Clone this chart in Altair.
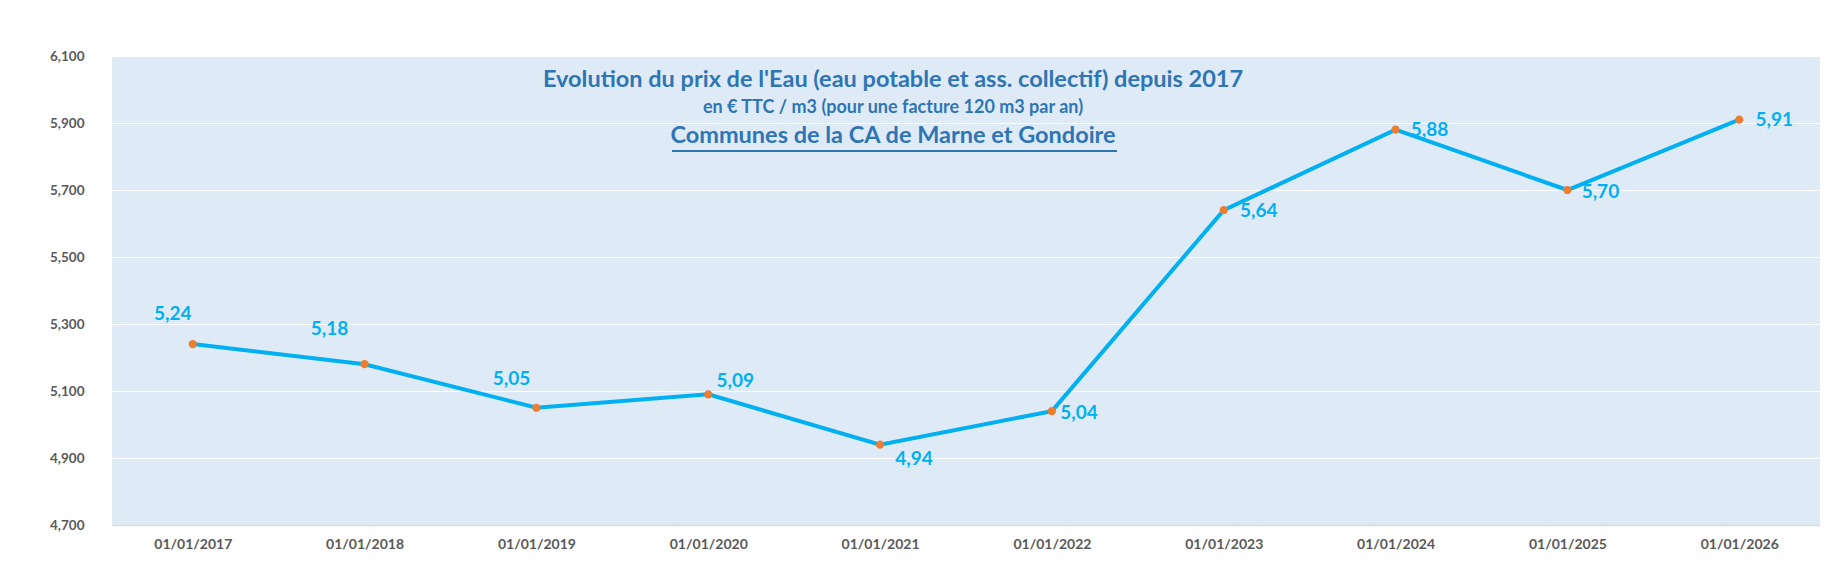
import altair as alt
import pandas as pd

dates = ["01/01/2017", "01/01/2018", "01/01/2019", "01/01/2020", "01/01/2021",
         "01/01/2022", "01/01/2023", "01/01/2024", "01/01/2025", "01/01/2026"]
prices = [5.24, 5.18, 5.05, 5.09, 4.94, 5.04, 5.64, 5.88, 5.70, 5.91]

title1 = "Evolution du prix de l'Eau (eau potable et ass. collectif) depuis 2017"
title2 = "en € TTC / m3 (pour une facture 120 m3 par an)"
title3 = "Communes de la CA de Marne et Gondoire"

df = pd.DataFrame({"date": dates, "price": prices})

FONT = "Lato"
LINE = "#00B0F0"
DOT = "#ED7D31"
TITLE_C = "#2E75B6"

W, H = 1708, 469

x = alt.X("date:N", sort=None, title=None,
          scale=alt.Scale(type="point", padding=0.47),
          axis=alt.Axis(labelAngle=0, ticks=False, grid=False, domain=True,
                        domainColor="#D9D9D9", domainWidth=1.5,
                        labelFont=FONT, labelFontWeight="bold", labelFontSize=14,
                        labelColor="#595959", labelPadding=12))
y = alt.Y("price:Q", title=None,
          scale=alt.Scale(domain=[4.7, 6.1], nice=False, zero=False),
          axis=alt.Axis(values=[4.7, 4.9, 5.1, 5.3, 5.5, 5.7, 5.9, 6.1],
                        labelExpr="replace(format(datum.value, '.3f'), '.', ',')",
                        ticks=False, domain=False, grid=True, gridColor="#FFFFFF",
                        gridWidth=1.2, labelFont=FONT, labelFontWeight="bold",
                        labelFontSize=13.5, labelColor="#595959", labelPadding=28))

base = alt.Chart(df).encode(x=x, y=y)

line = base.mark_line(color=LINE, strokeWidth=4)
dots = base.mark_circle(color=DOT, size=68, opacity=1)

# label placement relative to each point (dx, dy)
offsets = {
    "01/01/2017": (-20, -30), "01/01/2018": (-35, -35), "01/01/2019": (-25, -29),
    "01/01/2020": (27, -13), "01/01/2021": (34, 14), "01/01/2022": (27, 2),
    "01/01/2023": (35, 1), "01/01/2024": (34, 0), "01/01/2025": (33, 2),
    "01/01/2026": (35, 0),
}
label_layers = []
for d, (dx, dy) in offsets.items():
    label_layers.append(
        base.transform_filter(alt.datum.date == d)
        .transform_calculate(lbl="replace(format(datum.price, '.2f'), '.', ',')")
        .mark_text(font=FONT, fontWeight="bold", fontSize=19, color=LINE,
                   align="center", baseline="middle", dx=dx, dy=dy)
        .encode(text="lbl:N")
    )

tdf = pd.DataFrame({"t": [0]})
cx = 781
t1 = alt.Chart(tdf).mark_text(text=title1, font=FONT, fontWeight="bold", fontSize=23.5,
                              color=TITLE_C, align="center", baseline="middle").encode(
    x=alt.value(cx), y=alt.value(24))
t2 = alt.Chart(tdf).mark_text(text=title2, font=FONT, fontWeight="bold", fontSize=18,
                              color=TITLE_C, align="center", baseline="middle").encode(
    x=alt.value(cx), y=alt.value(52))
t3 = alt.Chart(tdf).mark_text(text=title3, font=FONT, fontWeight="bold", fontSize=23.5,
                              color=TITLE_C, align="center", baseline="middle").encode(
    x=alt.value(cx), y=alt.value(80))
underline = alt.Chart(tdf).mark_rule(color=TITLE_C, strokeWidth=2).encode(
    x=alt.value(560), x2=alt.value(1005), y=alt.value(95))

chart = alt.layer(line, dots, *label_layers, t1, t2, t3, underline).properties(
    width=W, height=H,
    autosize=alt.AutoSizeParams(type="none"),
    padding={"left": 104, "top": 48, "right": 0, "bottom": 34},
    background="white",
).configure_view(fill="#DEEBF7", stroke=None)

chart.save("out.html", embed_options={"renderer": "svg", "actions": False})
